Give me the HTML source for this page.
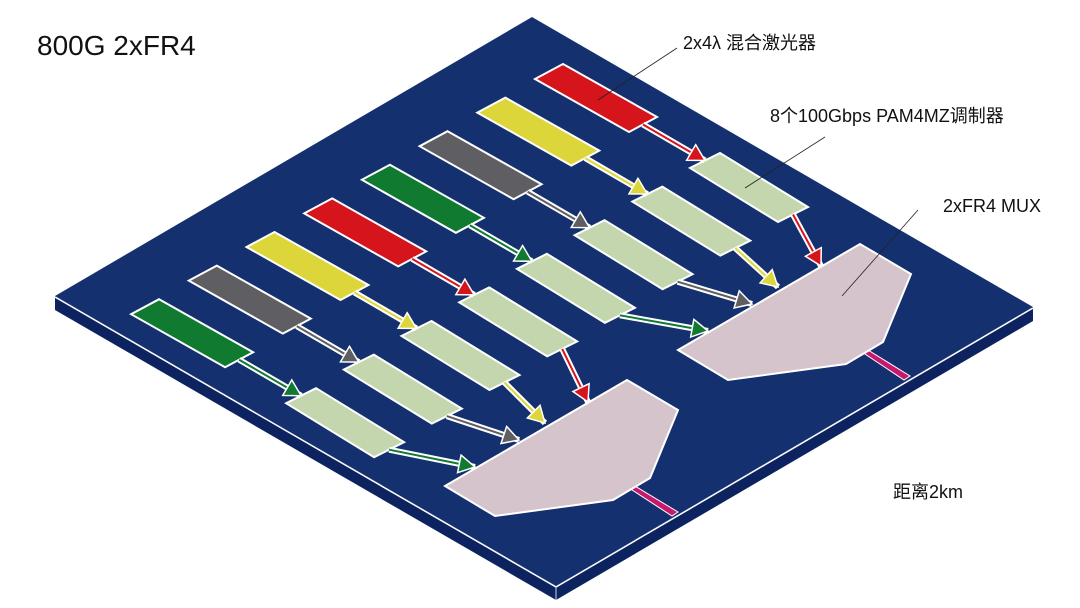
<!DOCTYPE html>
<html><head><meta charset="utf-8">
<style>
html,body{margin:0;padding:0;background:#fff;}
svg{display:block;}
text{font-family:"Liberation Sans","Noto Sans CJK SC",sans-serif;fill:#111;}
</style></head>
<body>
<svg width="1080" height="608" viewBox="0 0 1080 608" xmlns="http://www.w3.org/2000/svg">
<defs>
<marker id="mr" markerUnits="userSpaceOnUse" markerWidth="24" markerHeight="24" refX="17" refY="10" orient="auto"><path d="M1,1 L17,10 L1,19 z" fill="#d6141c" stroke="#fff" stroke-width="1.5"/></marker>
<marker id="my" markerUnits="userSpaceOnUse" markerWidth="24" markerHeight="24" refX="17" refY="10" orient="auto"><path d="M1,1 L17,10 L1,19 z" fill="#ddd63a" stroke="#fff" stroke-width="1.5"/></marker>
<marker id="mg" markerUnits="userSpaceOnUse" markerWidth="24" markerHeight="24" refX="17" refY="10" orient="auto"><path d="M1,1 L17,10 L1,19 z" fill="#5f5f63" stroke="#fff" stroke-width="1.5"/></marker>
<marker id="mn" markerUnits="userSpaceOnUse" markerWidth="24" markerHeight="24" refX="17" refY="10" orient="auto"><path d="M1,1 L17,10 L1,19 z" fill="#107a30" stroke="#fff" stroke-width="1.5"/></marker>
</defs>

<!-- board -->
<polygon points="55,296 556,586 556,600 55,310" fill="#0c2360"/>
<polygon points="556,586 1033,307 1033,321 556,600" fill="#0c2360"/>
<polygon points="532,17 1033,307 556,586 55,296" fill="#14306e"/>
<polyline points="55,297 556,587 1033,308" fill="none" stroke="#fff" stroke-width="1.5"/>
<line x1="556" y1="587" x2="556" y2="600" stroke="#cfd6e6" stroke-width="1"/>

<!-- lanes -->
<g stroke="#fff" stroke-width="2">
<g transform="translate(563,64)">
<polygon points="0,0 94,53 66,68 -28,15" fill="#d6141c"/>
<polygon points="157,89 245,143 215,158 127,104" fill="#c3d6ae"/>
<line x1="80" y1="60.5" x2="142" y2="96.5" stroke="#fff" stroke-width="6"/>
<line x1="80" y1="60.5" x2="142" y2="96.5" stroke="#d6141c" stroke-width="2" marker-end="url(#mr)"/>
</g>
<g transform="translate(505.3,97.6)">
<polygon points="0,0 94,53 66,68 -28,15" fill="#ddd63a"/>
<polygon points="157,89 245,143 215,158 127,104" fill="#c3d6ae"/>
<line x1="80" y1="60.5" x2="142" y2="96.5" stroke="#fff" stroke-width="6"/>
<line x1="80" y1="60.5" x2="142" y2="96.5" stroke="#ddd63a" stroke-width="2" marker-end="url(#my)"/>
</g>
<g transform="translate(447.6,131.2)">
<polygon points="0,0 94,53 66,68 -28,15" fill="#5f5f63"/>
<polygon points="157,89 245,143 215,158 127,104" fill="#c3d6ae"/>
<line x1="80" y1="60.5" x2="142" y2="96.5" stroke="#fff" stroke-width="6"/>
<line x1="80" y1="60.5" x2="142" y2="96.5" stroke="#5f5f63" stroke-width="2" marker-end="url(#mg)"/>
</g>
<g transform="translate(389.9,164.8)">
<polygon points="0,0 94,53 66,68 -28,15" fill="#107a30"/>
<polygon points="157,89 245,143 215,158 127,104" fill="#c3d6ae"/>
<line x1="80" y1="60.5" x2="142" y2="96.5" stroke="#fff" stroke-width="6"/>
<line x1="80" y1="60.5" x2="142" y2="96.5" stroke="#107a30" stroke-width="2" marker-end="url(#mn)"/>
</g>
<g transform="translate(332.2,198.4)">
<polygon points="0,0 94,53 66,68 -28,15" fill="#d6141c"/>
<polygon points="157,89 245,143 215,158 127,104" fill="#c3d6ae"/>
<line x1="80" y1="60.5" x2="142" y2="96.5" stroke="#fff" stroke-width="6"/>
<line x1="80" y1="60.5" x2="142" y2="96.5" stroke="#d6141c" stroke-width="2" marker-end="url(#mr)"/>
</g>
<g transform="translate(274.5,232)">
<polygon points="0,0 94,53 66,68 -28,15" fill="#ddd63a"/>
<polygon points="157,89 245,143 215,158 127,104" fill="#c3d6ae"/>
<line x1="80" y1="60.5" x2="142" y2="96.5" stroke="#fff" stroke-width="6"/>
<line x1="80" y1="60.5" x2="142" y2="96.5" stroke="#ddd63a" stroke-width="2" marker-end="url(#my)"/>
</g>
<g transform="translate(216.8,265.6)">
<polygon points="0,0 94,53 66,68 -28,15" fill="#5f5f63"/>
<polygon points="157,89 245,143 215,158 127,104" fill="#c3d6ae"/>
<line x1="80" y1="60.5" x2="142" y2="96.5" stroke="#fff" stroke-width="6"/>
<line x1="80" y1="60.5" x2="142" y2="96.5" stroke="#5f5f63" stroke-width="2" marker-end="url(#mg)"/>
</g>
<g transform="translate(159.1,299.2)">
<polygon points="0,0 94,53 66,68 -28,15" fill="#107a30"/>
<polygon points="157,89 245,143 215,158 127,104" fill="#c3d6ae"/>
<line x1="80" y1="60.5" x2="142" y2="96.5" stroke="#fff" stroke-width="6"/>
<line x1="80" y1="60.5" x2="142" y2="96.5" stroke="#107a30" stroke-width="2" marker-end="url(#mn)"/>
</g>
</g>

<!-- fibers -->
<polygon points="862,352 868,350 910,376 904,380" fill="#c8186e" stroke="#fff" stroke-width="1"/>
<polygon points="629,488 635,486 678,512 672,516" fill="#c8186e" stroke="#fff" stroke-width="1"/>

<!-- MUXes -->
<polygon points="678,350 860,244 911,274 883,342 846,364 728,380" fill="#d5c4cc" stroke="#fff" stroke-width="2"/>
<polygon points="445,486 627,380 678,410 650,478 613,500 495,516" fill="#d5c4cc" stroke="#fff" stroke-width="2"/>

<!-- mod -> mux connectors -->
<g>
<line x1="793" y1="214.5" x2="821" y2="266" stroke="#fff" stroke-width="6"/>
<line x1="793" y1="214.5" x2="821" y2="266" stroke="#d6141c" stroke-width="2" marker-end="url(#mr)"/>
<line x1="735.3" y1="248.1" x2="778" y2="287" stroke="#fff" stroke-width="6"/>
<line x1="735.3" y1="248.1" x2="778" y2="287" stroke="#ddd63a" stroke-width="2" marker-end="url(#my)"/>
<line x1="677.6" y1="281.7" x2="752" y2="304" stroke="#fff" stroke-width="6"/>
<line x1="677.6" y1="281.7" x2="752" y2="304" stroke="#5f5f63" stroke-width="2" marker-end="url(#mg)"/>
<line x1="619.9" y1="315.3" x2="708" y2="331" stroke="#fff" stroke-width="6"/>
<line x1="619.9" y1="315.3" x2="708" y2="331" stroke="#107a30" stroke-width="2" marker-end="url(#mn)"/>
<line x1="562.2" y1="348.9" x2="588" y2="402" stroke="#fff" stroke-width="6"/>
<line x1="562.2" y1="348.9" x2="588" y2="402" stroke="#d6141c" stroke-width="2" marker-end="url(#mr)"/>
<line x1="504.5" y1="382.5" x2="545" y2="423" stroke="#fff" stroke-width="6"/>
<line x1="504.5" y1="382.5" x2="545" y2="423" stroke="#ddd63a" stroke-width="2" marker-end="url(#my)"/>
<line x1="446.8" y1="416.1" x2="519" y2="440" stroke="#fff" stroke-width="6"/>
<line x1="446.8" y1="416.1" x2="519" y2="440" stroke="#5f5f63" stroke-width="2" marker-end="url(#mg)"/>
<line x1="389.1" y1="449.7" x2="475" y2="467" stroke="#fff" stroke-width="6"/>
<line x1="389.1" y1="449.7" x2="475" y2="467" stroke="#107a30" stroke-width="2" marker-end="url(#mn)"/>
</g>

<!-- leader lines -->
<line x1="677" y1="48" x2="598" y2="100" stroke="#222" stroke-width="0.8"/>
<line x1="825" y1="137" x2="745" y2="188" stroke="#222" stroke-width="0.8"/>
<line x1="918" y1="210" x2="842" y2="296" stroke="#222" stroke-width="0.8"/>

<!-- labels -->
<text x="37" y="55" font-size="28">800G 2xFR4</text>
<text x="683" y="49" font-size="18">2x4λ 混合激光器</text>
<text x="770" y="122" font-size="18">8个100Gbps PAM4MZ调制器</text>
<text x="943" y="212" font-size="18">2xFR4 MUX</text>
<text x="893" y="498" font-size="18">距离2km</text>
</svg>
</body></html>
